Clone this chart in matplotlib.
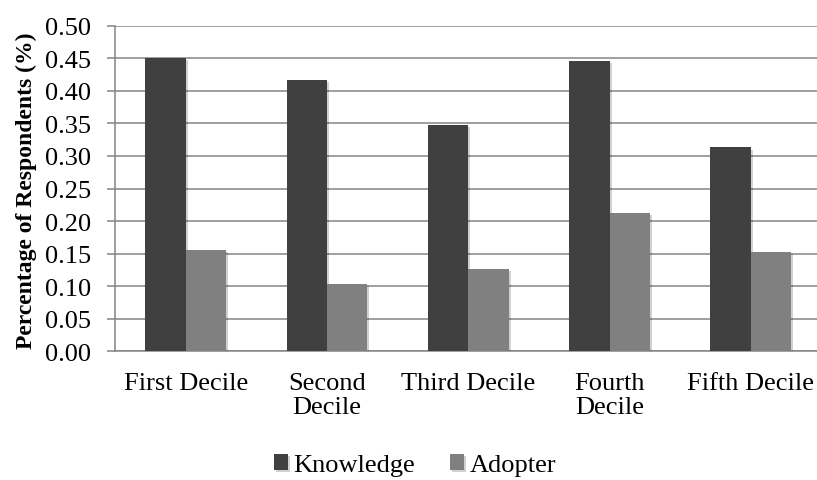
import matplotlib
matplotlib.use("Agg")
import matplotlib.pyplot as plt
import matplotlib.patheffects as pe
import numpy as np

categories = ["First Decile", "Second\nDecile", "Third Decile", "Fourth\nDecile", "Fifth Decile"]
knowledge = [0.451, 0.417, 0.348, 0.446, 0.313]
adopter = [0.155, 0.103, 0.127, 0.213, 0.153]
yticks = [0.00, 0.05, 0.10, 0.15, 0.20, 0.25, 0.30, 0.35, 0.40, 0.45, 0.50]

plt.rcParams["font.family"] = ["Liberation Serif", "DejaVu Serif"]

fig = plt.figure(figsize=(8.17, 4.81), dpi=100)
ax = fig.add_axes([115 / 817, 1 - 352.3 / 481, 706.5 / 817, (352.3 - 26.7) / 481])

grid_col = "#858585"
x = np.arange(len(categories))
w = 1 / 3.5
shadow = [pe.SimplePatchShadow(offset=(1.5, -1.5), shadow_rgbFace="#000000", alpha=0.18), pe.Normal()]
b1 = ax.bar(x - w / 2, knowledge, width=w, color="#404040", label="Knowledge", zorder=3)
b2 = ax.bar(x + w / 2, adopter, width=w, color="#808080", label="Adopter", zorder=3)
for b in list(b1) + list(b2):
    b.set_path_effects(shadow)

ax.set_xlim(-0.5, len(categories) - 0.5)
ax.set_ylim(0, 0.5)
ax.set_yticks(yticks)
ax.set_yticklabels([f"{v:.2f}" for v in yticks])
ax.set_xticks(x)
ax.set_xticklabels(categories, linespacing=1.1)

ax.yaxis.grid(True, color=grid_col, linewidth=1.1, zorder=0)
ax.set_axisbelow(True)
for s in ["top", "right"]:
    ax.spines[s].set_visible(False)
ax.spines["left"].set_color(grid_col)
ax.spines["left"].set_linewidth(1.1)
ax.spines["bottom"].set_color(grid_col)
ax.spines["bottom"].set_linewidth(1.1)

ax.tick_params(axis="y", direction="out", length=6, width=1.1, color=grid_col,
               labelsize=19, pad=11)
ax.tick_params(axis="x", length=0, labelsize=19, pad=15)

ax.set_ylabel("Percentage of Respondents (%)", fontsize=17, fontweight="bold")
ax.yaxis.set_label_coords(-0.11, 0.495)

leg = fig.legend(handles=[b1, b2], labels=["Knowledge", "Adopter"], loc="center",
                 bbox_to_anchor=(415 / 817, 1 - 466 / 481), ncol=2, frameon=False,
                 fontsize=19, handlelength=0.55, handleheight=0.55, handletextpad=0.2,
                 columnspacing=1.3)

fig.savefig("out.png", dpi=100)
